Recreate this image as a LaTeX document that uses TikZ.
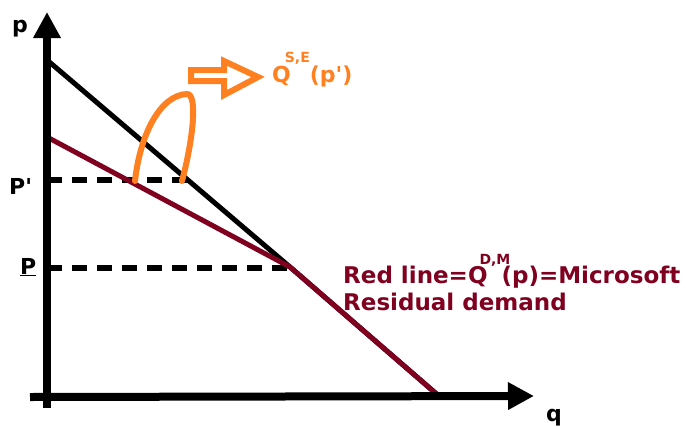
\documentclass[tikz,border=0pt]{standalone}
\usepackage{fontspec}
\newfontfamily\dvs{DejaVu Sans}
\usetikzlibrary{arrows.meta}
\definecolor{maroon}{RGB}{128,0,32}
\definecolor{orng}{RGB}{255,128,32}
\newcommand\supover[3]{\makebox[0pt][l]{\hspace{#1}\raisebox{#2}{\fontsize{14}{14}\selectfont #3}}}
\tikzset{
  axis/.style={line width=8pt,-{Triangle[length=26pt,width=26pt]}},
  curve/.style={line width=5pt},
  dashln/.style={line width=6pt,dash pattern=on 15pt off 10pt,dash phase=0pt},
  lab/.style={font=\dvs\bfseries\fontsize{22}{22}\selectfont,inner sep=0pt},
  redtxt/.style={font=\dvs\bfseries\fontsize{23}{27}\selectfont,text=maroon,align=left,inner sep=0pt},
}
\begin{document}
\begin{tikzpicture}[x=1pt,y=-1pt]
\useasboundingbox (0,0) rectangle (688,426);
\coordinate (ybot) at (47,408);
\coordinate (ytop) at (47,12);
\coordinate (xl) at (30,397);
\coordinate (xr) at (534,396);
\coordinate (A) at (47,60);
\coordinate (K) at (290,267);
\coordinate (R0) at (47,137);
\coordinate (E) at (440,397);
\coordinate (d1s) at (47,180);
\coordinate (d1e) at (190,180);
\coordinate (d2s) at (47,268);
\coordinate (d2e) at (290,268);
% dashed price lines
\draw[dashln] (d1s) -- (d1e);
\draw[dashln] (d2s) -- (d2e);
% black demand
\draw[curve,black] (A) -- (K) -- (E);
% red residual demand
\draw[curve,maroon] (R0) -- (K) -- (E);
% axes
\draw[axis] (ybot) -- (ytop);
\draw[axis] (xl) -- (xr);
% orange loop
\coordinate (L1) at (135,181);
\coordinate (L2) at (187,94);
\coordinate (L3) at (182,181);
\draw[orng,line width=6pt,line cap=round] (L1) .. controls (140,135) and (160,95) .. (L2) .. controls (198,94) and (193,140) .. (L3);
% hollow arrow
\draw[orng,line width=6pt,fill=white,line join=miter] (191,70) -- (224,70) -- (224,61) -- (258,77) -- (224,95) -- (224,81) -- (191,81) -- cycle;
\node[lab,text=orng,anchor=base west,font=\dvs\bfseries\fontsize{22}{22}\selectfont] (qse) at (272,82) {Q\supover{-6pt}{20pt}{S,E}\hspace{19pt}(p')};
% labels
\node[lab,anchor=base west] (p) at (12,32) {p};
\node[lab,anchor=base west] (pp) at (9,194) {P'};
\node[lab,anchor=base west] (pl) at (20,274) {\underline{P}};
\node[lab,anchor=base west] (q) at (546,421) {q};
\node[redtxt,anchor=base west] (rl) at (343,310) {Red line=Q\supover{-8pt}{19pt}{D,M}\hspace{14pt}(p)=Microsoft\\Residual demand};
\end{tikzpicture}
\end{document}
